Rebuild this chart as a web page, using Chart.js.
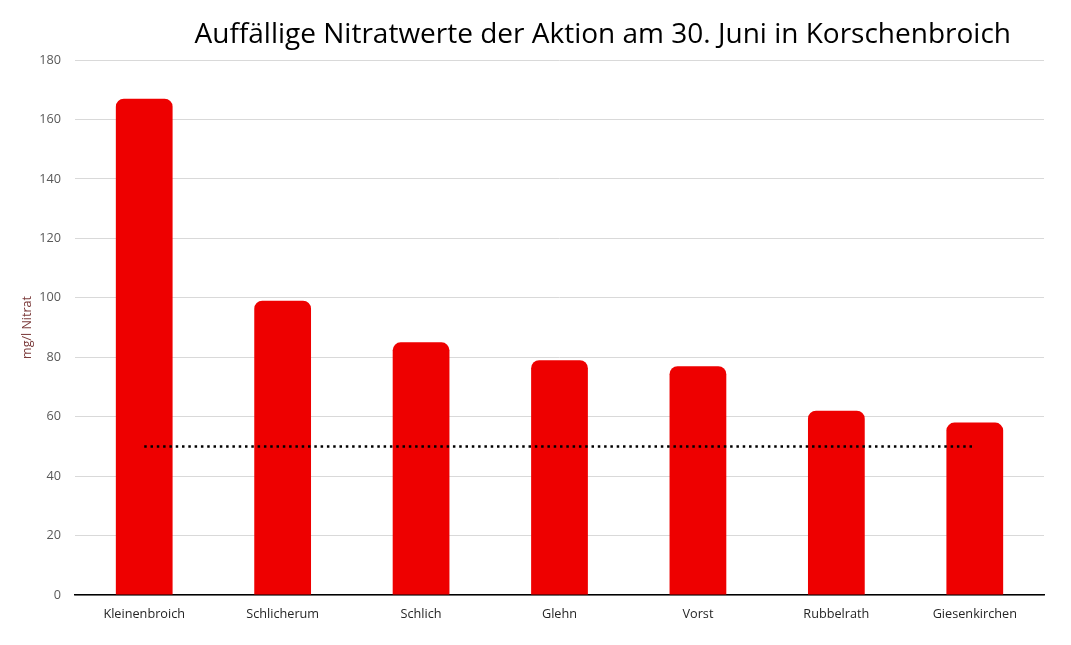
<!DOCTYPE html>
<html>
<head>
<meta charset="utf-8">
<script src="https://cdn.jsdelivr.net/npm/chart.js@4"></script>
<style>
  html,body{margin:0;padding:0;background:#fff;}
  #wrap{position:relative;width:1071px;height:645px;}
  #title{position:absolute;left:0;right:60px;top:13px;text-align:right;font-family:"Open Sans",sans-serif;font-size:28px;color:#000;white-space:nowrap;}
</style>
</head>
<body>
<div id="wrap">
  <canvas id="c" width="1071" height="645"></canvas>
  <div id="title">Auffällige Nitratwerte der Aktion am 30. Juni in Korschenbroich</div>
</div>
<script>
// Werte
const orte = ['Kleinenbroich','Schlicherum','Schlich','Glehn','Vorst','Rubbelrath','Giesenkirchen'];
const nitrat = [167, 99, 85, 79, 77, 62, 58];
const grenzwert = [50, 50, 50, 50, 50, 50, 50];
const yTicks = [0, 20, 40, 60, 80, 100, 120, 140, 160, 180];

new Chart(document.getElementById('c'), {
  data:{ labels:orte, datasets:[
    {type:'line', label:'Grenzwert', data:grenzwert, borderColor:'#000', borderWidth:2.5, borderDash:[2.5,3.8],
     pointRadius:0, fill:false, order:0},
    {type:'bar', label:'Nitrat', data:nitrat, backgroundColor:'#ee0000', borderRadius:{topLeft:8, topRight:8},
     borderSkipped:'bottom', barPercentage:0.41, categoryPercentage:1, order:1}
  ]},
  options:{
    responsive:false, animation:false,
    layout:{ padding:{left:0, right:27, top:60, bottom:0} },
    plugins:{ legend:{display:false}, tooltip:{enabled:false} },
    scales:{
      x:{
        grid:{display:false, drawTicks:false},
        border:{color:'#000', width:1.5},
        ticks:{color:'#262626', font:{family:'Open Sans', size:12.7}, padding:12, maxRotation:0},
        afterFit: s => { s.height = 50; }
      },
      y:{
        min:0, max:180,
        afterBuildTicks: s => { s.ticks = yTicks.map(v => ({value:v})); },
        grid:{color:'#d9d9d9', drawTicks:false},
        border:{display:false},
        ticks:{color:'#595959', font:{family:'Open Sans', size:12.7}, padding:14},
        title:{display:true, text:'mg/l Nitrat', color:'#7b3a3a', font:{family:'Open Sans', size:12.5}, padding:{top:20, bottom:0}},
        afterFit: s => { s.width = 75; }
      }
    }
  }
});
</script>
</body>
</html>
